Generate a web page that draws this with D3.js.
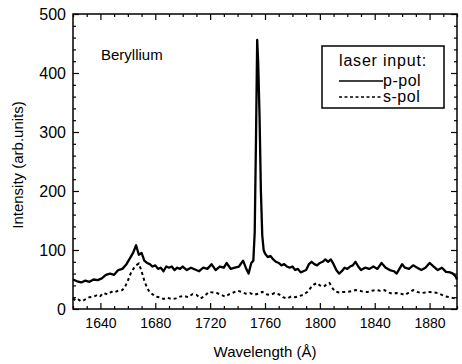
<!DOCTYPE html>
<html>
<head>
<meta charset="utf-8">
<script src="https://cdn.jsdelivr.net/npm/d3@7"></script>
<style>
  body { margin: 0; background: #fff; }
  text { font-family: "Liberation Sans", Arial, Helvetica, sans-serif; fill: #000; }
</style>
</head>
<body>
<div id="chart"></div>
<script>
// p-pol spectrum (wavelength in Å, intensity arb. units)
const pWave = [1620,1623,1626,1629,1632,1635,1638,1641,1644,1647,1650,1653,1656,1659,1662,1664,1666,1668,1670,1672,
  1674,1676,1678,1680,1682,1684,1686,1688,1690,1692,1694,1696,1698,1700,1703,1706,1709,1712,1715,1718,
  1721,1724,1727,1730,1732,1735,1738,1741,1744,1746,1748,1750,1751.5,1752.5,1753.5,1754.3,1755,1756,1757,1758,
  1759,1760,1762,1764,1766,1768,1770,1772,1774,1776,1778,1780,1782,1784,1786,1788,1790,1792,1794,1796,
  1798,1800,1802,1804,1806,1808,1810,1812,1814,1816,1818,1820,1822,1824,1826,1828,1830,1833,1836,1839,
  1842,1845,1848,1851,1854,1856,1858,1860,1862,1865,1868,1871,1874,1877,1880,1883,1886,1889,1892,1895,
  1897,1899,1900];
const pVal = [50,47,45,48,46,50,49,52,58,60,58,66,68,76,88,96,108,92,95,82,
  78,76,72,74,68,70,64,72,70,72,66,70,68,72,66,70,67,64,70,68,
  76,66,72,70,78,68,70,72,82,70,60,78,82,130,300,456,420,330,200,125,
  100,94,88,90,84,80,78,74,76,72,70,72,66,68,62,64,66,76,80,76,
  74,78,80,84,80,84,76,66,60,64,70,68,72,74,80,72,66,70,68,72,
  68,78,70,66,64,60,68,76,70,68,74,70,66,70,78,72,66,70,63,62,
  60,55,50];

// s-pol spectrum
const sWave = [1620,1622,1624,1626,1628,1630,1632,1635,1638,1640,1642,1645,1648,1650,1653,1656,1658,1660,1662,1664,
  1666,1668,1670,1672,1674,1676,1678,1680,1683,1686,1689,1692,1695,1698,1701,1704,1707,1710,1713,1716,
  1719,1722,1725,1728,1731,1734,1737,1740,1743,1746,1749,1752,1755,1758,1761,1764,1767,1770,1773,1776,
  1779,1782,1785,1788,1791,1794,1796,1798,1800,1803,1805,1807,1809,1811,1814,1817,1820,1823,1826,1829,
  1832,1835,1838,1841,1844,1847,1850,1853,1856,1859,1862,1865,1868,1871,1874,1877,1880,1883,1886,1889,
  1892,1895,1898,1900];
const sVal = [18,14,16,13,15,18,20,21,24,22,27,25,29,28,31,32,38,48,60,68,
  74,77,64,48,36,28,25,21,20,17,19,17,18,21,22,20,25,24,18,22,
  29,28,27,24,21,25,28,31,29,26,27,24,26,29,25,24,27,25,20,18,
  21,20,22,24,29,38,42,44,40,38,42,44,36,30,28,29,29,30,32,31,
  29,29,31,32,31,32,28,26,27,26,24,28,32,29,27,28,29,28,27,24,
  21,20,18,17];

const xMajor = [1640,1680,1720,1760,1800,1840,1880];
const yMajor = [0,100,200,300,400,500];

const width = 462, height = 364;
const margin = { left: 73, right: 5, top: 14, bottom: 55 };

const svg = d3.select("#chart").append("svg")
  .attr("width", width)
  .attr("height", height);

const x = d3.scaleLinear().domain([1620, 1900]).range([margin.left, width - margin.right]);
const y = d3.scaleLinear().domain([0, 500]).range([height - margin.bottom, margin.top]);

const xMinor = d3.range(1620, 1901, 10).filter(v => !xMajor.includes(v));
const yMinor = d3.range(0, 501, 20).filter(v => !yMajor.includes(v));

function styleAxis(g) {
  g.select(".domain").remove();
  g.selectAll(".tick line").attr("stroke", "#000").attr("stroke-width", 1.2);
}

// bottom axis
svg.append("g")
  .attr("transform", `translate(0,${y(0)})`)
  .call(d3.axisBottom(x).tickValues(xMajor).tickSize(-6).tickPadding(9).tickFormat(d3.format("d")))
  .call(styleAxis)
  .call(g => g.selectAll("text").attr("font-size", 14).attr("font-family", "Liberation Sans, Arial, sans-serif"));
svg.append("g")
  .attr("transform", `translate(0,${y(0)})`)
  .call(d3.axisBottom(x).tickValues(xMinor).tickSize(-3).tickFormat(""))
  .call(styleAxis);

// top axis
svg.append("g")
  .attr("transform", `translate(0,${y(500)})`)
  .call(d3.axisTop(x).tickValues(xMajor).tickSize(-6).tickFormat(""))
  .call(styleAxis);
svg.append("g")
  .attr("transform", `translate(0,${y(500)})`)
  .call(d3.axisTop(x).tickValues(xMinor).tickSize(-3).tickFormat(""))
  .call(styleAxis);

// left axis
svg.append("g")
  .attr("transform", `translate(${x(1620)},0)`)
  .call(d3.axisLeft(y).tickValues(yMajor).tickSize(-6).tickPadding(7).tickFormat(d3.format("d")))
  .call(styleAxis)
  .call(g => g.selectAll("text").attr("font-size", 16).attr("font-family", "Liberation Sans, Arial, sans-serif"));
svg.append("g")
  .attr("transform", `translate(${x(1620)},0)`)
  .call(d3.axisLeft(y).tickValues(yMinor).tickSize(-3).tickFormat(""))
  .call(styleAxis);

// right axis
svg.append("g")
  .attr("transform", `translate(${x(1900)},0)`)
  .call(d3.axisRight(y).tickValues(yMajor).tickSize(-6).tickFormat(""))
  .call(styleAxis);
svg.append("g")
  .attr("transform", `translate(${x(1900)},0)`)
  .call(d3.axisRight(y).tickValues(yMinor).tickSize(-3).tickFormat(""))
  .call(styleAxis);

// frame
svg.append("rect")
  .attr("x", x(1620)).attr("y", y(500))
  .attr("width", x(1900) - x(1620)).attr("height", y(0) - y(500))
  .attr("fill", "none").attr("stroke", "#000").attr("stroke-width", 1.5);

const line = d3.line().x(d => x(d[0])).y(d => y(d[1]));

svg.append("path")
  .datum(sWave.map((w, i) => [w, sVal[i]]))
  .attr("d", line)
  .attr("fill", "none").attr("stroke", "#000")
  .attr("stroke-width", 2).attr("stroke-dasharray", "3,3");

svg.append("path")
  .datum(pWave.map((w, i) => [w, pVal[i]]))
  .attr("d", line)
  .attr("fill", "none").attr("stroke", "#000")
  .attr("stroke-width", 2.3).attr("stroke-linejoin", "round");

// labels
svg.append("text")
  .attr("x", (x(1620) + x(1900)) / 2).attr("y", 357)
  .attr("text-anchor", "middle").attr("font-size", 15)
  .text("Wavelength (Å)");

svg.append("text")
  .attr("transform", `translate(23,165) rotate(-90)`)
  .attr("text-anchor", "middle").attr("font-size", 15)
  .text("Intensity (arb.units)");

svg.append("text")
  .attr("x", 101).attr("y", 60)
  .attr("font-size", 15)
  .text("Beryllium");

// legend
const lg = svg.append("g").attr("transform", "translate(322,46)");
lg.append("rect")
  .attr("width", 122).attr("height", 62)
  .attr("fill", "#fff").attr("stroke", "#000").attr("stroke-width", 1.5);
lg.append("text").attr("x", 61).attr("y", 20)
  .attr("text-anchor", "middle").attr("font-size", 16).attr("letter-spacing", 0.8)
  .text("laser input:");
lg.append("line").attr("x1", 17).attr("x2", 61).attr("y1", 35).attr("y2", 35)
  .attr("stroke", "#000").attr("stroke-width", 1.5);
lg.append("text").attr("x", 61).attr("y", 40).attr("font-size", 16).attr("letter-spacing", 0.5).text("p-pol");
lg.append("line").attr("x1", 17).attr("x2", 61).attr("y1", 51).attr("y2", 51)
  .attr("stroke", "#000").attr("stroke-width", 1.5).attr("stroke-dasharray", "3,2.5");
lg.append("text").attr("x", 61).attr("y", 56).attr("font-size", 16).attr("letter-spacing", 0.5).text("s-pol");
</script>
</body>
</html>
